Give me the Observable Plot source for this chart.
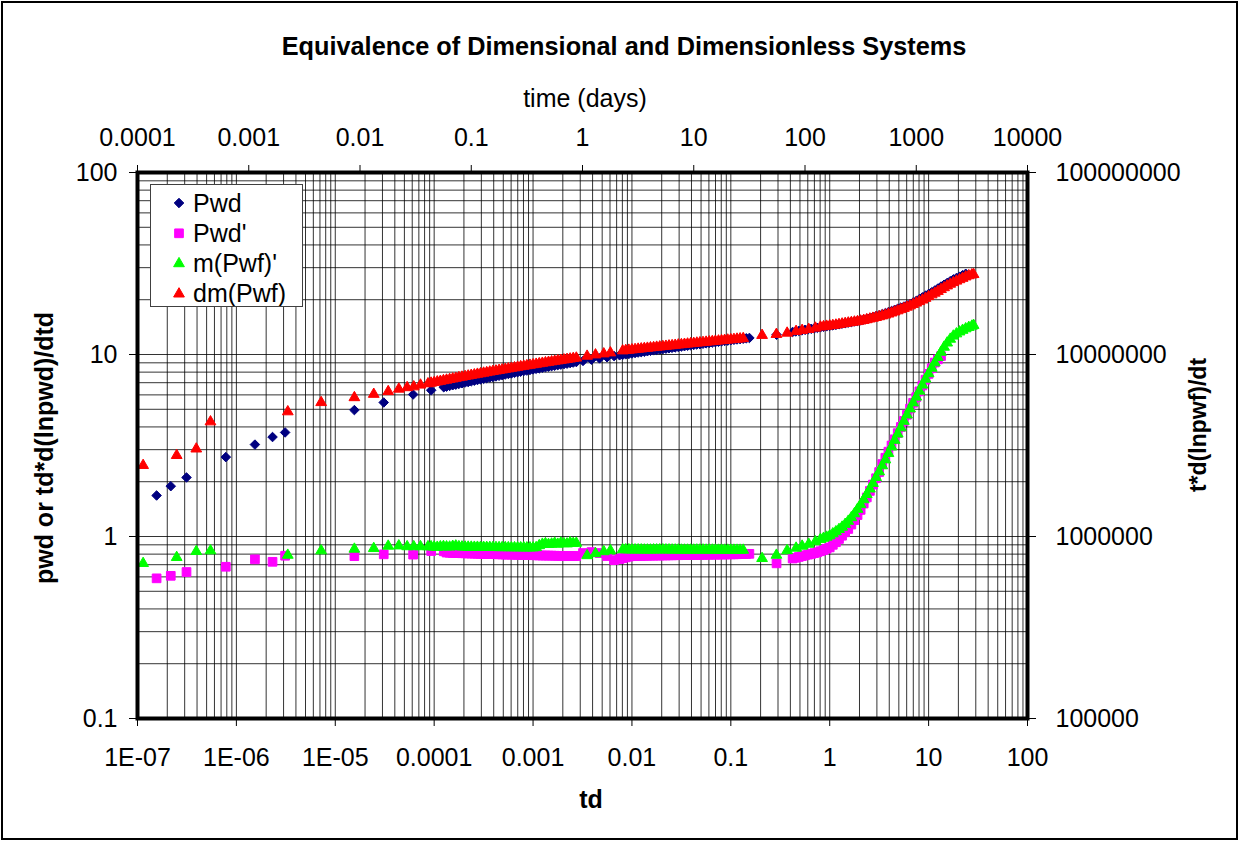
<!DOCTYPE html>
<html>
<head>
<meta charset="utf-8">
<script src="https://cdn.jsdelivr.net/npm/d3@7"></script>
<script src="https://cdn.jsdelivr.net/npm/@observablehq/plot@0.6"></script>
<style>
  body { margin: 0; background: #fff; }
  #chart { position: relative; width: 1239px; height: 841px; overflow: hidden; background: #fff;
           font-family: "Liberation Sans", Arial, sans-serif; }
  #chart > svg { position: absolute; left: 0; top: 0; }
  #border { position: absolute; left: 1px; top: 1px; width: 1237px; height: 839px;
            box-sizing: border-box; border: 2px solid #000; pointer-events: none; }
  #legend { position: absolute; left: 150px; top: 184px; width: 153px; height: 123px;
            box-sizing: border-box; border: 1px solid #404040; background: #fff; }
  #legend svg { position: absolute; left: 0; top: 0; }
</style>
</head>
<body>
<div id="chart"><div id="border"></div></div>
<script>
// ---- Pwd and Pwd' (dimensionless), sampled on the td grid ----
const pwdTd = [
  1.56e-7, 2.17e-7, 3.13e-7, 7.82e-7, 1.54e-6, 2.32e-6, 3.11e-6, 1.56e-5, 3.09e-5, 6.13e-5, 9.33e-5, 1.25e-4,
  1.334e-4, 1.433e-4, 1.540e-4, 1.655e-4, 1.778e-4, 1.911e-4, 2.054e-4, 2.207e-4, 2.371e-4, 2.548e-4,
  2.738e-4, 2.943e-4, 3.162e-4, 3.398e-4, 3.652e-4, 3.924e-4, 4.217e-4, 4.532e-4, 4.870e-4, 5.233e-4,
  5.623e-4, 6.043e-4, 6.494e-4, 6.978e-4, 7.499e-4, 8.058e-4, 8.660e-4, 9.306e-4, 1.000e-3, 1.075e-3,
  1.155e-3, 1.241e-3, 1.334e-3, 1.433e-3, 1.540e-3, 1.655e-3, 1.778e-3, 1.911e-3, 2.054e-3, 2.207e-3,
  2.371e-3, 2.548e-3, 2.738e-3,
  3.2e-3, 3.9e-3, 4.7e-3, 5.6e-3, 6.6e-3,
  7.499e-3, 8.058e-3, 8.660e-3, 9.306e-3, 1.000e-2, 1.075e-2, 1.155e-2, 1.241e-2, 1.334e-2, 1.433e-2,
  1.540e-2, 1.655e-2, 1.778e-2, 1.911e-2, 2.054e-2, 2.207e-2, 2.371e-2, 2.548e-2, 2.738e-2, 2.943e-2,
  3.162e-2, 3.398e-2, 3.652e-2, 3.924e-2, 4.217e-2, 4.532e-2, 4.870e-2, 5.233e-2, 5.623e-2, 6.043e-2,
  6.494e-2, 6.978e-2, 7.499e-2, 8.058e-2, 8.660e-2, 9.306e-2, 0.1000, 0.1075, 0.1155, 0.1241,
  0.1334, 0.1433, 0.1540,
  0.29,
  0.4217, 0.4532, 0.4870, 0.5233, 0.5623, 0.6043, 0.6494, 0.6978, 0.7499, 0.8058,
  0.8660, 0.9306, 1.000, 1.075, 1.155, 1.241, 1.334, 1.433, 1.540, 1.655,
  1.778, 1.911, 2.054, 2.207, 2.371, 2.548, 2.738, 2.943, 3.162, 3.398,
  3.652, 3.924, 4.217, 4.532, 4.870, 5.233, 5.623, 6.043, 6.494, 6.978,
  7.499, 8.058, 8.660, 9.306, 10.00, 10.75, 11.55, 12.41, 13.34, 14.33,
  15.40, 16.55, 17.78, 19.11, 20.54, 22.07, 23.71
];
const pwdValues = [
  1.68, 1.89, 2.11, 2.73, 3.20, 3.52, 3.73, 4.95, 5.45, 6.03, 6.36, 6.61,
  6.66, 6.72, 6.78, 6.83, 6.89, 6.95, 7.01, 7.06, 7.12, 7.18,
  7.24, 7.30, 7.35, 7.41, 7.47, 7.53, 7.58, 7.64, 7.70, 7.76,
  7.82, 7.87, 7.93, 7.99, 8.05, 8.11, 8.16, 8.22, 8.28, 8.34,
  8.39, 8.45, 8.51, 8.57, 8.63, 8.68, 8.74, 8.80, 8.86, 8.91,
  8.97, 9.03, 9.09,
  9.22, 9.37, 9.52, 9.66, 9.80,
  9.90, 9.96, 10.02, 10.07, 10.13, 10.19, 10.25, 10.30, 10.36, 10.42,
  10.48, 10.54, 10.59, 10.65, 10.71, 10.77, 10.82, 10.88, 10.94, 11.00,
  11.06, 11.11, 11.17, 11.23, 11.29, 11.35, 11.40, 11.46, 11.52, 11.58,
  11.63, 11.69, 11.75, 11.81, 11.87, 11.92, 11.98, 12.04, 12.10, 12.15,
  12.21, 12.27, 12.33,
  12.84,
  13.30, 13.39, 13.48, 13.57, 13.66, 13.75, 13.84, 13.92, 14.01, 14.10,
  14.19, 14.28, 14.37, 14.46, 14.55, 14.65, 14.76, 14.86, 14.97, 15.07,
  15.18, 15.29, 15.41, 15.56, 15.72, 15.89, 16.06, 16.25, 16.45, 16.66,
  16.87, 17.10, 17.33, 17.59, 17.86, 18.10, 18.34, 18.62, 18.91, 19.30,
  19.69, 20.14, 20.60, 21.05, 21.51, 21.99, 22.48, 23.05, 23.62, 24.17,
  24.72, 25.29, 25.86, 26.31, 26.77, 27.27, 27.77
];
const pwdPrimeValues = [
  0.589, 0.608, 0.638, 0.682, 0.749, 0.726, 0.784, 0.780, 0.798, 0.795, 0.832, 0.829,
  0.816, 0.814, 0.812, 0.811, 0.810, 0.809, 0.808, 0.807, 0.806, 0.805,
  0.804, 0.803, 0.802, 0.801, 0.800, 0.800, 0.799, 0.798, 0.797, 0.796,
  0.795, 0.795, 0.794, 0.793, 0.792, 0.791, 0.790, 0.790, 0.789, 0.788,
  0.787, 0.786, 0.786, 0.785, 0.785, 0.784, 0.783, 0.783, 0.782, 0.782,
  0.781, 0.781, 0.781,
  0.811, 0.821, 0.811, 0.781, 0.742,
  0.752, 0.760, 0.768, 0.775, 0.781, 0.782, 0.783, 0.783, 0.784, 0.784,
  0.785, 0.785, 0.786, 0.786, 0.787, 0.787, 0.788, 0.788, 0.789, 0.789,
  0.790, 0.790, 0.791, 0.791, 0.792, 0.792, 0.793, 0.793, 0.794, 0.794,
  0.795, 0.795, 0.796, 0.796, 0.797, 0.797, 0.798, 0.798, 0.799, 0.800,
  0.801, 0.802, 0.803,
  0.712,
  0.757, 0.764, 0.772, 0.780, 0.788, 0.795, 0.802, 0.810, 0.819, 0.830,
  0.842, 0.856, 0.871, 0.900, 0.930, 0.969, 1.010, 1.054, 1.100, 1.163,
  1.230, 1.312, 1.400, 1.517, 1.640, 1.780, 1.930, 2.090, 2.260, 2.500,
  2.709, 2.925, 3.162, 3.420, 3.698, 3.996, 4.316, 4.666, 5.047, 5.428,
  5.830, 6.273, 6.757, 7.272, 7.828, 8.405, 9.033, 9.400, 9.800, null,
  null, null, null, null, null, null, null
];

// ---- m(Pwf)' and dm(Pwf) from the dimensional data, expressed in td ----
const mTd = [
  1.14e-7, 2.49e-7, 3.93e-7, 5.47e-7, 3.31e-6, 7.20e-6, 1.56e-5, 2.45e-5, 3.43e-5, 4.39e-5, 5.33e-5, 6.22e-5, 7.27e-5,
  8.660e-5, 9.306e-5, 1.000e-4, 1.075e-4, 1.155e-4, 1.241e-4, 1.334e-4, 1.433e-4, 1.540e-4, 1.655e-4,
  1.778e-4, 1.911e-4, 2.054e-4, 2.207e-4, 2.371e-4, 2.548e-4, 2.738e-4, 2.943e-4, 3.162e-4, 3.398e-4,
  3.652e-4, 3.924e-4, 4.217e-4, 4.532e-4, 4.870e-4, 5.233e-4, 5.623e-4, 6.043e-4, 6.494e-4, 6.978e-4,
  7.499e-4, 8.058e-4, 8.660e-4, 9.306e-4, 1.000e-3, 1.075e-3, 1.155e-3, 1.241e-3, 1.334e-3, 1.433e-3,
  1.540e-3, 1.655e-3, 1.778e-3, 1.911e-3, 2.054e-3, 2.207e-3, 2.371e-3, 2.548e-3, 2.738e-3,
  3.52e-3, 4.28e-3, 5.19e-3, 6.06e-3,
  8.058e-3, 8.660e-3, 9.306e-3, 1.000e-2, 1.075e-2, 1.155e-2, 1.241e-2, 1.334e-2, 1.433e-2, 1.540e-2,
  1.655e-2, 1.778e-2, 1.911e-2, 2.054e-2, 2.207e-2, 2.371e-2, 2.548e-2, 2.738e-2, 2.943e-2, 3.162e-2,
  3.398e-2, 3.652e-2, 3.924e-2, 4.217e-2, 4.532e-2, 4.870e-2, 5.233e-2, 5.623e-2, 6.043e-2, 6.494e-2,
  6.978e-2, 7.499e-2, 8.058e-2, 8.660e-2, 9.306e-2, 0.1000, 0.1075, 0.1155, 0.1241, 0.1334,
  0.207, 0.289, 0.371, 0.457, 0.526, 0.613, 0.717,
  0.8058, 0.8660, 0.9306, 1.000, 1.075, 1.155, 1.241, 1.334, 1.433, 1.540,
  1.655, 1.778, 1.911, 2.054, 2.207, 2.371, 2.548, 2.738, 2.943, 3.162,
  3.398, 3.652, 3.924, 4.217, 4.532, 4.870, 5.233, 5.623, 6.043, 6.494,
  6.978, 7.499, 8.058, 8.660, 9.306, 10.00, 10.75, 11.55, 12.41, 13.34,
  14.33, 15.40, 16.55, 17.78, 19.11, 20.54, 22.07, 23.71, 25.48, 27.38,
  28.5
];
const mPrimeValues = [
  0.712, 0.768, 0.828, 0.835, 0.790, 0.835, 0.853, 0.860, 0.886, 0.889, 0.880, 0.880, 0.880,
  0.880, 0.879, 0.876, 0.874, 0.879, 0.882, 0.878, 0.876, 0.884, 0.888,
  0.880, 0.877, 0.876, 0.875, 0.875, 0.874, 0.874, 0.873, 0.873, 0.872,
  0.872, 0.871, 0.871, 0.870, 0.870, 0.870, 0.869, 0.869, 0.869, 0.868,
  0.868, 0.868, 0.867, 0.867, 0.867, 0.870, 0.892, 0.908, 0.915, 0.905,
  0.910, 0.920, 0.908, 0.922, 0.915, 0.912, 0.925, 0.918, 0.920,
  0.786, 0.806, 0.826, 0.837,
  0.847, 0.846, 0.846, 0.845, 0.845, 0.845, 0.845, 0.844, 0.844, 0.844,
  0.845, 0.845, 0.846, 0.846, 0.845, 0.845, 0.844, 0.844, 0.844, 0.843,
  0.843, 0.843, 0.843, 0.843, 0.844, 0.844, 0.844, 0.843, 0.843, 0.843,
  0.843, 0.842, 0.842, 0.842, 0.842, 0.842, 0.842, 0.842, 0.842, 0.842,
  0.758, 0.790, 0.837, 0.864, 0.886, 0.908, 0.937,
  0.965, 0.979, 0.993, 1.010, 1.036, 1.063, 1.094, 1.127, 1.168, 1.215,
  1.270, 1.335, 1.413, 1.498, 1.594, 1.703, 1.826, 1.960, 2.112, 2.270,
  2.450, 2.640, 2.860, 3.110, 3.380, 3.660, 3.960, 4.300, 4.660, 5.030,
  5.430, 5.840, 6.300, 6.800, 7.330, 7.850, 8.420, 9.010, 9.640, 10.30,
  10.98, 11.58, 12.15, 12.64, 13.00, 13.32, 13.60, 13.86, 14.10, 14.33,
  14.47
];
const dmValues = [
  2.46, 2.79, 3.03, 4.27, 4.85, 5.45, 5.80, 6.05, 6.26, 6.46, 6.58, 6.65, 6.80,
  6.91, 6.97, 7.02, 7.08, 7.13, 7.19, 7.24, 7.30, 7.35, 7.41,
  7.47, 7.52, 7.58, 7.63, 7.69, 7.74, 7.80, 7.85, 7.91, 7.96,
  8.02, 8.08, 8.13, 8.19, 8.24, 8.30, 8.35, 8.41, 8.46, 8.52,
  8.58, 8.63, 8.69, 8.74, 8.80, 8.85, 8.91, 8.96, 9.02, 9.07,
  9.13, 9.19, 9.24, 9.30, 9.35, 9.41, 9.46, 9.52, 9.57,
  9.80, 9.96, 10.09, 10.22,
  10.48, 10.53, 10.57, 10.62, 10.66, 10.71, 10.75, 10.80, 10.84, 10.89,
  10.93, 10.98, 11.02, 11.07, 11.11, 11.16, 11.20, 11.25, 11.30, 11.34,
  11.39, 11.43, 11.48, 11.52, 11.57, 11.61, 11.66, 11.70, 11.75, 11.79,
  11.84, 11.88, 11.93, 11.97, 12.02, 12.07, 12.11, 12.16, 12.20, 12.25,
  12.75, 12.91, 13.12, 13.41, 13.58, 13.75, 13.98,
  14.18, 14.24, 14.32, 14.39, 14.45, 14.53, 14.63, 14.73, 14.83, 14.92,
  15.01, 15.10, 15.19, 15.30, 15.42, 15.55, 15.70, 15.84, 15.99, 16.15,
  16.32, 16.49, 16.70, 16.93, 17.16, 17.41, 17.67, 17.94, 18.23, 18.53,
  18.86, 19.20, 19.56, 19.94, 20.38, 20.82, 21.30, 21.76, 22.25, 22.78,
  23.31, 23.85, 24.37, 24.86, 25.34, 25.80, 26.25, 26.72, 27.13, 27.42,
  27.55
];

// ---- axes ----
const tdTicks = [1e-7, 1e-6, 1e-5, 1e-4, 1e-3, 1e-2, 0.1, 1, 10, 100];
const tdTickLabels = ["1E-07", "1E-06", "1E-05", "0.0001", "0.001", "0.01", "0.1", "1", "10", "100"];
const timeTicks = [1e-4, 1e-3, 1e-2, 0.1, 1, 10, 100, 1000, 10000];
const timeTickLabels = ["0.0001", "0.001", "0.01", "0.1", "1", "10", "100", "1000", "10000"];
const pwdTicks = [0.1, 1, 10, 100];
const pwdTickLabels = ["0.1", "1", "10", "100"];
const derivTicks = [1e5, 1e6, 1e7, 1e8];
const derivTickLabels = ["100000", "1000000", "10000000", "100000000"];

const seriesNames = ["Pwd", "Pwd'", "m(Pwf)'", "dm(Pwf)"];
const seriesColors = ["#000080", "#ff00ff", "#00ff00", "#ff0000"];
const seriesSymbols = ["diamond2", "square", "triangle", "triangle"];
const seriesRadius = [4.3, 4.9, 4.0, 4.0];

const titleText = "Equivalence of Dimensional and Dimensionless Systems";
const topAxisTitle = "time (days)";
const bottomAxisTitle = "td";
const leftAxisTitle = "pwd or td*d(lnpwd)/dtd";
const rightAxisTitle = "t*d(lnpwf)/dt";

// ---- tables for the marks ----
const pwd = pwdTd.map((td, i) => ({td, v: pwdValues[i]}));
const pwdPrime = pwdTd.map((td, i) => ({td, v: pwdPrimeValues[i]})).filter(d => d.v != null);
const mPrime = mTd.map((td, i) => ({td, v: mPrimeValues[i]}));
const dm = mTd.map((td, i) => ({td, v: dmValues[i]}));
const seriesData = [pwd, pwdPrime, mPrime, dm];

// log gridlines: every 1..9 multiple of each decade
function logGrid(lo, hi) {
  const out = [];
  for (let e = Math.round(Math.log10(lo)); e < Math.round(Math.log10(hi)); e++)
    for (let k = 1; k <= 9; k++) out.push(+(k * Math.pow(10, e)).toPrecision(3));
  out.push(hi);
  return out;
}

const W = 1239, H = 841;
const margins = {marginLeft: 137, marginRight: 212, marginTop: 172, marginBottom: 123};
const font = "Liberation Sans, Arial, sans-serif";

const main = Plot.plot({
  width: W, height: H, ...margins,
  style: {fontFamily: font, fontSize: "25px", color: "#000", background: "transparent", overflow: "visible"},
  x: {type: "log", domain: [1e-7, 100]},
  y: {type: "log", domain: [0.1, 100]},
  marks: [
    Plot.gridX(logGrid(1e-7, 100), {stroke: "#000", strokeOpacity: 0.8, strokeWidth: 1}),
    Plot.gridY(logGrid(0.1, 100), {stroke: "#000", strokeOpacity: 0.8, strokeWidth: 1}),
    ...seriesData.map((data, s) => Plot.dot(data, {
      x: "td", y: "v", symbol: seriesSymbols[s], r: seriesRadius[s],
      fill: seriesColors[s], stroke: seriesColors[s], strokeWidth: 1
    })),
    Plot.frame({stroke: "#000", strokeWidth: 4}),
    Plot.axisX(tdTicks, {anchor: "bottom", tickSize: 8, tickPadding: 22, label: null,
      tickFormat: d => tdTickLabels[tdTicks.indexOf(d)]}),
    Plot.axisY(pwdTicks, {anchor: "left", tickSize: 8, tickPadding: 12, label: null,
      tickFormat: d => pwdTickLabels[pwdTicks.indexOf(d)]})
  ]
});

// secondary axes: time in days on top, dimensional derivative on the right
const secondary = Plot.plot({
  width: W, height: H, ...margins,
  style: {fontFamily: font, fontSize: "25px", color: "#000", background: "transparent", overflow: "visible"},
  x: {type: "log", domain: [1e-4, 1e4]},
  y: {type: "log", domain: [1e5, 1e8]},
  marks: [
    Plot.axisX(timeTicks, {anchor: "top", tickSize: 8, tickPadding: 19, label: null,
      tickFormat: d => timeTickLabels[timeTicks.indexOf(d)]}),
    Plot.axisY(derivTicks, {anchor: "right", tickSize: 8, tickPadding: 20, label: null,
      tickFormat: d => derivTickLabels[derivTicks.indexOf(d)]})
  ]
});

const chart = document.getElementById("chart");
chart.insertBefore(main, chart.firstChild);
chart.insertBefore(secondary, main.nextSibling);

// titles
const g = d3.select(secondary).append("g")
  .attr("font-family", font).attr("font-size", 25).attr("fill", "#000").attr("text-anchor", "middle");
g.append("text").attr("x", 624).attr("y", 55).attr("font-weight", "bold").attr("font-size", 25.3).text(titleText);
g.append("text").attr("x", 585).attr("y", 107).text(topAxisTitle);
g.append("text").attr("x", 591).attr("y", 808).attr("font-weight", "bold").text(bottomAxisTitle);
g.append("text").attr("transform", "translate(53,448) rotate(-90)").attr("font-weight", "bold").text(leftAxisTitle);
g.append("text").attr("transform", "translate(1206,425) rotate(-90)").attr("font-weight", "bold")
  .attr("font-size", 23).text(rightAxisTitle);

// legend
const legend = d3.select(chart).append("div").attr("id", "legend");
const ls = legend.append("svg").attr("width", 151).attr("height", 121);
seriesNames.forEach((name, s) => {
  const cy = 18 + s * 30.3;
  const sym = {diamond2: d3.symbolDiamond2, square: d3.symbolSquare, triangle: d3.symbolTriangle}[seriesSymbols[s]];
  const r = seriesRadius[s];
  ls.append("path")
    .attr("transform", `translate(28,${cy})`)
    .attr("d", d3.symbol(sym, r * r * Math.PI)())
    .attr("fill", seriesColors[s]).attr("stroke", seriesColors[s]).attr("stroke-width", 1);
  ls.append("text").attr("x", 42).attr("y", cy + 8.5)
    .attr("font-family", font).attr("font-size", 25).attr("fill", "#000").text(name);
});
</script>
</body>
</html>
